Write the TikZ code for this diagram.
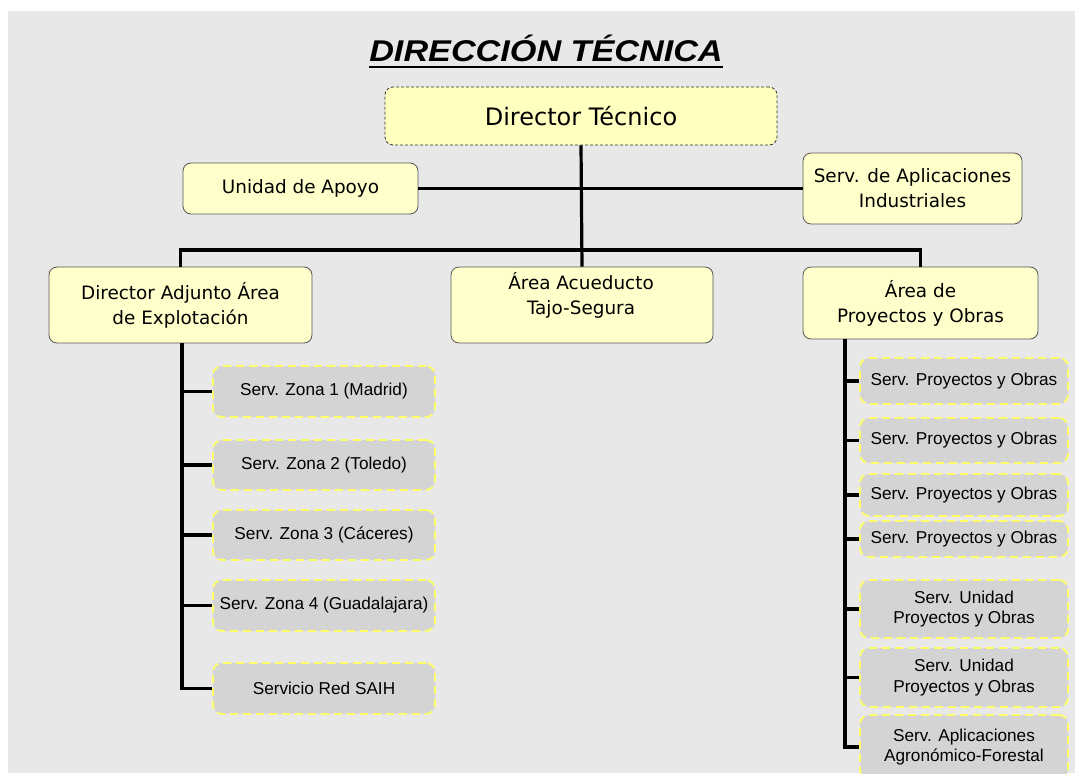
\documentclass[tikz,border=0pt]{standalone}
\usepackage{fontspec}
\setmainfont{Liberation Sans}
\newfontfamily\comic{DejaVu Sans}
\definecolor{bg}{HTML}{E8E8E8}
\definecolor{yfill}{HTML}{FFFFCC}
\definecolor{dfill}{HTML}{FFFFC0}
\definecolor{ybord}{HTML}{555555}
\definecolor{gfill}{HTML}{D4D4D4}
\definecolor{gbord}{HTML}{FFFF66}
\tikzset{
  ybox/.style={draw=ybord, fill=yfill, rounded corners=8pt, line width=0.8pt,
    font=\comic\fontsize{18.4}{25}\selectfont, align=center, inner sep=0pt},
  dbox/.style={ybox, fill=dfill, draw=black!80, dashed, dash pattern=on 3pt off 2pt,
    font=\comic\fontsize{24}{26}\selectfont},
  gbox/.style={draw=gbord, dash pattern=on 8pt off 5pt, fill=gfill, rounded corners=9pt,
    line width=1.8pt, font=\fontsize{17.2}{20.5}\selectfont, align=center, inner sep=0pt},
  lbox/.style={gbox, minimum width=222pt},
  rbox/.style={gbox, minimum width=208pt},
  conn/.style={line width=3.2pt, black},
}
\begin{document}
\begin{tikzpicture}[x=1pt,y=-1pt]
\clip (0,0) rectangle (1075,773);
\fill[white] (0,0) rectangle (1075,773);
\fill[bg] (8,11) rectangle (1075,773);

% title
\node[font=\bfseries\itshape\fontsize{30}{34}\selectfont, inner sep=0pt] (title) at (546,48)
  {\scalebox{1.14}[1]{DIRECCIÓN TÉCNICA}};
\draw[line width=2pt] ([yshift=-6pt]title.base west) -- ([yshift=-6pt]title.base east);

% yellow boxes
\node[dbox, minimum width=392pt, minimum height=58pt] (dir) at (581,116) {Director Técnico};
\node[ybox, minimum width=235pt, minimum height=51pt] (apoyo) at (300.5,188.5) {Unidad de Apoyo};
\node[ybox, minimum width=219pt, minimum height=71pt] (apl) at (912.5,188.5) {Serv. de Aplicaciones\\Industriales};
\node[ybox, minimum width=263pt, minimum height=76pt] (dadj) at (180.5,305) {Director Adjunto Área\\de Explotación};
\node[ybox, minimum width=262pt, minimum height=76pt] (acu) at (582,305) {};
\node[font=\comic\fontsize{18.4}{25}\selectfont, align=center, inner sep=0pt] (acut) at (581,295) {Área Acueducto\\Tajo-Segura};
\node[ybox, minimum width=235pt, minimum height=72pt] (proy) at (920.5,303) {Área de\\Proyectos y Obras};

% left gray boxes
\node[lbox, minimum height=51pt] (z1) at (324,391.5) {Serv. Zona 1 (Madrid)};
\node[lbox, minimum height=50pt] (z2) at (324,465) {Serv. Zona 2 (Toledo)};
\node[lbox, minimum height=50pt] (z3) at (324,535) {Serv. Zona 3 (Cáceres)};
\node[lbox, minimum height=51pt] (z4) at (324,605.5) {Serv. Zona 4 (Guadalajara)};
\node[lbox, minimum height=51pt] (saih) at (324,688.5) {Servicio Red SAIH};

% right gray boxes
\node[rbox, minimum height=46pt] (p1) at (964,381) {Serv. Proyectos y Obras};
\node[rbox, minimum height=45pt] (p2) at (964,440.5) {Serv. Proyectos y Obras};
\node[rbox, minimum height=42pt] (p3) at (964,495) {Serv. Proyectos y Obras};
\node[rbox, minimum height=36pt] (p4) at (964,539) {Serv. Proyectos y Obras};
\node[rbox, minimum height=58pt] (u1) at (964,609) {Serv. Unidad\\Proyectos y Obras};
\node[rbox, minimum height=59pt] (u2) at (964,677.5) {Serv. Unidad\\Proyectos y Obras};
\node[rbox, minimum height=64pt] (agro) at (964,747) {Serv. Aplicaciones\\Agronómico-Forestal};

% connectors
\coordinate (bus) at (581,250);
\coordinate (pr) at (845,339);
\draw[conn] (dir.south) -- (acu.north);
\draw[conn] (apoyo.east) -- (apl.west);
\draw[conn] (dadj.north) |- (bus) -| (proy.north);
\foreach \n in {z1,z2,z3,z4,saih} \draw[conn] ([xshift=1.5pt]dadj.south) |- (\n.west);
\foreach \n in {p1,p2,p3,p4,u1,u2,agro} \draw[conn] (pr) |- (\n.west);
\end{tikzpicture}
\end{document}
